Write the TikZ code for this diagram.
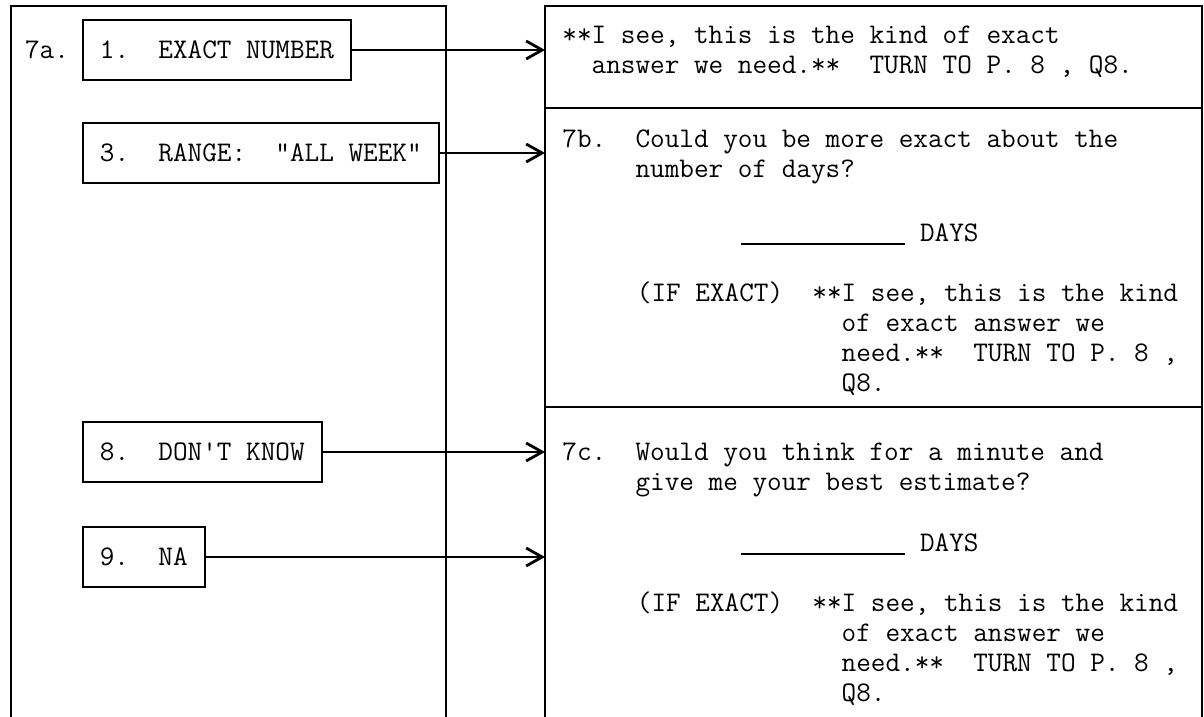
\documentclass[tikz,border=0pt]{standalone}
\usetikzlibrary{positioning, arrows.meta}
\frenchspacing

\begin{document}
\begin{tikzpicture}[x=0.5pt, y=-0.5pt, font=\ttfamily\fontsize{14.2}{15}\selectfont]
    \tikzset{choice/.style={rectangle,draw=black,line width=0.9pt,minimum height=30pt,inner xsep=8.5pt,anchor=west}}
    \tikzset{typed/.style={align=left,anchor=base west,inner sep=0pt}}
    \tikzset{frame/.style={draw=black,line width=1.1pt}}
    \tikzset{jump/.style={line width=0.7pt,-{Straight Barb[length=8pt,width=9pt,line width=1.4pt]}}}
    \useasboundingbox (0,0) rectangle (1204,717);
    % Frames
    \draw[frame] (11,717) -- (11,6) -- (446,6) -- (446,717);
    \draw[frame] (545,717) -- (545,6) -- (1202,6) -- (1202,717);
    \draw[frame, line width=0.9pt] (545,108) -- (1202,108);
    \draw[frame, line width=0.9pt] (545,407) -- (1202,407);
    \coordinate (rf) at (545,0);

    % Answers to 7a
    \node[choice] (c1) at (82,50) {1.~~EXACT NUMBER};
    \node[left=3pt of c1] (q7a) {7a.};
    \node[choice] (c3) at (82,153) {3.~~RANGE:~~"ALL WEEK"};
    \node[choice] (c8) at (82,452) {8.~~DON\textquotesingle T KNOW};
    \node[choice] (c9) at (82,557) {9.~~NA};

    \draw[jump] (c1.east) -- (c1.east -| rf);
    \draw[jump] (c3.east) -- (c3.east -| rf);
    \draw[jump] (c8.east) -- (c8.east -| rf);
    \draw[jump] (c9.east) -- (c9.east -| rf);

    % Exact answer (base = last line)
    \node[typed] (a1) at (562,74) {**I see, this is the kind of exact\\~~answer we need.**~~TURN TO P.~8~,~Q8.};

    % 7b
    \node[typed] (q7b) at (562,177) {7b.~~Could you be more exact about the\\~~~~~number of days?};
    \node[typed] (d7b) at (741,241) {\rule[-2pt]{82pt}{0.8pt}~DAYS};
    \node[typed] (e7b) at (636.5,391) {(IF EXACT)~~**I see, this is the kind\\~~~~~~~~~~~~~~of exact answer we\\~~~~~~~~~~~~~~need.**~~TURN TO P.~8~,\\~~~~~~~~~~~~~~Q8.};

    % 7c
    \node[typed] (q7c) at (562,490) {7c.~~Would you think for a minute and\\~~~~~give me your best estimate?};
    \node[typed] (d7c) at (741,551) {\rule[-2pt]{82pt}{0.8pt}~DAYS};
    \node[typed] (e7c) at (636.5,701) {(IF EXACT)~~**I see, this is the kind\\~~~~~~~~~~~~~~of exact answer we\\~~~~~~~~~~~~~~need.**~~TURN TO P.~8~,\\~~~~~~~~~~~~~~Q8.};
\end{tikzpicture}
\end{document}
